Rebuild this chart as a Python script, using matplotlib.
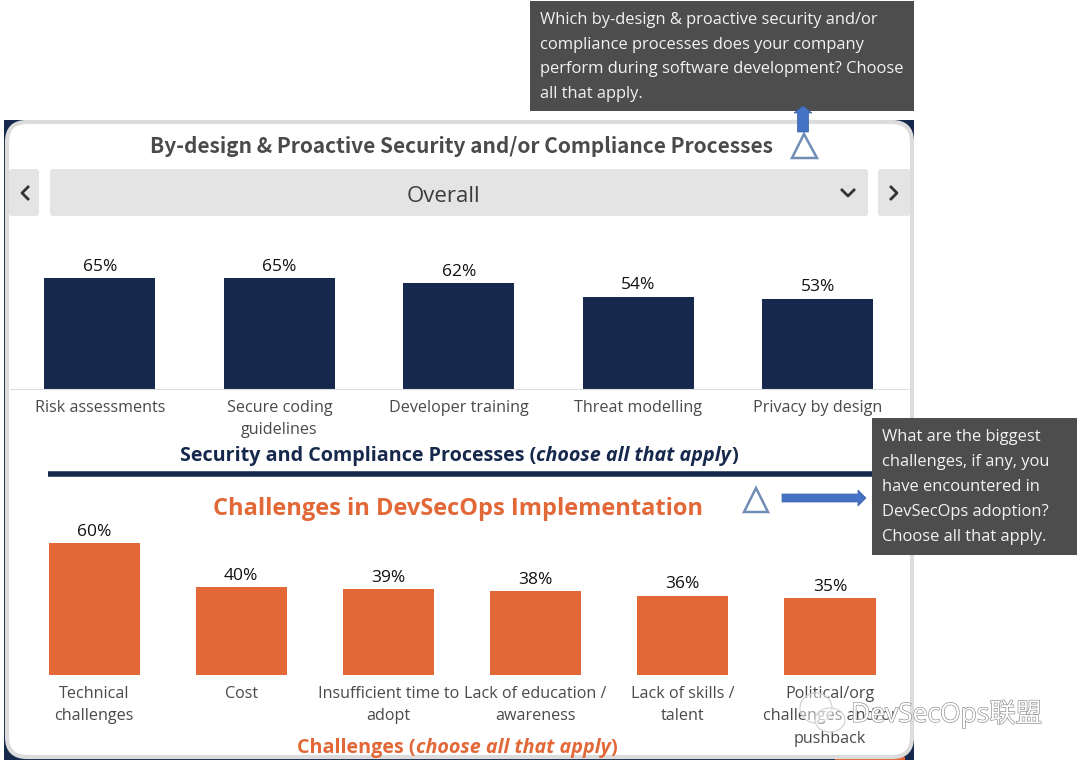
import matplotlib
matplotlib.use("Agg")
import matplotlib.pyplot as plt
import matplotlib.patheffects as pe
from matplotlib.patches import FancyBboxPatch, Rectangle, Polygon, Ellipse

plt.rcParams['font.family'] = ['Open Sans', 'Noto Sans CJK SC', 'DejaVu Sans']

# data
top_labels = ['Risk assessments', 'Secure coding\nguidelines', 'Developer training', 'Threat modelling', 'Privacy by design']
top_values = [65, 65, 62, 54, 53]
bottom_labels = ['Technical\nchallenges', 'Cost', 'Insufficient time to\nadopt', 'Lack of education /\nawareness',
                 'Lack of skills /\ntalent', 'Political/org\nchallenges and/or\npushback']
bottom_values = [60, 40, 39, 38, 36, 35]

question_top = ('Which by-design & proactive security and/or\ncompliance processes does your company\n'
                'perform during software development? Choose\nall that apply.')
question_bottom = ('What are the biggest\nchallenges, if any, you\nhave encountered in\n'
                   'DevSecOps adoption?\nChoose all that apply.')

NAVY = '#16294d'
ORANGE = '#e26838'
TEXT = '#4a4a4a'
W, H = 1080, 765

fig = plt.figure(figsize=(W / 100, H / 100), dpi=100, facecolor='white')


def px_axes(left, top, right, bottom):
    return fig.add_axes([left / W, 1 - bottom / H, (right - left) / W, (bottom - top) / H])


def caption(ax, cx, y, head, tail, color, size):
    # bold part + bold italic part + closing bracket, centred as one line
    rend = fig.canvas.get_renderer()
    parts = [(head + ' (', 'normal'), (tail, 'italic'), (')', 'normal')]
    items = [ax.text(0, y, s, va='center', ha='left', fontsize=size, fontweight='bold', fontstyle=st, color=color)
             for s, st in parts]
    widths = [t.get_window_extent(rend).width for t in items]
    x = cx - sum(widths) / 2
    for t, w in zip(items, widths):
        t.set_x(x)
        x += w


# page layer in pixel coordinates
bg = fig.add_axes([0, 0, 1, 1])
bg.set_xlim(0, W)
bg.set_ylim(H, 0)
bg.axis('off')

# dark card behind, white rounded panel on top
bg.add_patch(Rectangle((4, 120), 910, 640, fc=NAVY, ec='none'))
bg.add_patch(Rectangle((835, 757), 70, 3, fc=ORANGE, ec='none'))
bg.add_patch(FancyBboxPatch((7, 122), 905, 635, boxstyle='round,pad=0,rounding_size=20',
                            fc='white', ec='#dcdcdc', lw=3))

# title and selector
bg.text(461, 146.5, 'By-design & Proactive Security and/or Compliance Processes', ha='center', va='center',
        fontsize=15, fontweight='bold', color=TEXT, family=['Noto Sans CJK SC', 'DejaVu Sans'])
for x0, x1 in [(9, 39), (50, 868), (878, 910)]:
    bg.add_patch(FancyBboxPatch((x0, 169), x1 - x0, 47, boxstyle='round,pad=0,rounding_size=3', fc='#e4e4e4', ec='none'))
bg.text(443, 196, 'Overall', ha='center', va='center', fontsize=16, color='#3c3c3c')
bg.plot([28, 22, 28], [187, 193, 199], color='#333333', lw=2)
bg.plot([891, 897, 891], [187, 193, 199], color='#333333', lw=2)
bg.plot([842, 848, 854], [190, 196, 190], color='#333333', lw=2)

# top bars
ax1 = px_axes(10, 240, 908, 389)
ax1.bar(range(len(top_values)), top_values, width=111 / 179.5, color=NAVY)
ax1.set_xlim((10 - 100) / 179.5, (908 - 100) / 179.5)
ax1.set_ylim(0, 149 / 1.705)
ax1.set_xticks(range(len(top_values)))
ax1.set_xticklabels(top_labels, fontsize=11.65, color=TEXT, linespacing=1.53)
ax1.tick_params(axis='x', length=0, pad=8)
ax1.set_yticks([])
for s in ['top', 'left', 'right']:
    ax1.spines[s].set_visible(False)
ax1.spines['bottom'].set_color('#dddddd')
ax1.patch.set_alpha(0)
for i, v in enumerate(top_values):
    ax1.annotate(f'{v}%', (i, v), xytext=(0, 2.5), textcoords='offset points', ha='center', va='bottom',
                 fontsize=12.5, color='#111111')

# section captions
caption(bg, 459, 456, 'Security and Compliance Processes', 'choose all that apply', NAVY, 14.2)
bg.plot([48, 873], [474, 474], color=NAVY, lw=4, solid_capstyle='butt')
bg.text(458, 509, 'Challenges in DevSecOps Implementation', ha='center', va='center', fontsize=17,
        fontweight='bold', color=ORANGE)

# bottom bars
ax2 = px_axes(10, 520, 908, 675)
ax2.bar(range(len(bottom_values)), bottom_values, width=91 / 147.2, color=ORANGE)
ax2.set_xlim((10 - 94) / 147.2, (908 - 94) / 147.2)
ax2.set_ylim(0, 155 / 2.2)
ax2.set_xticks(range(len(bottom_values)))
ax2.set_xticklabels(bottom_labels, fontsize=11.65, color=TEXT, linespacing=1.53)
ax2.tick_params(axis='x', length=0, pad=8)
ax2.set_yticks([])
for s in ax2.spines.values():
    s.set_visible(False)
ax2.patch.set_alpha(0)
for i, v in enumerate(bottom_values):
    ax2.annotate(f'{v}%', (i, v), xytext=(0, 2.5), textcoords='offset points', ha='center', va='bottom',
                 fontsize=12.5, color='#111111')

caption(bg, 457, 748, 'Challenges', 'choose all that apply', ORANGE, 14.25)

# overlay layer for callouts, above the bars
top = fig.add_axes([0, 0, 1, 1])
top.set_xlim(0, W)
top.set_ylim(H, 0)
top.axis('off')
top.patch.set_alpha(0)

top.add_patch(Rectangle((530, 1), 384, 110, fc='#4d4d4d', ec='none'))
top.text(540, 57, question_top, ha='left', va='center', fontsize=11.85, color='#f2f2f2', linespacing=1.74)
top.add_patch(Rectangle((872, 418), 205, 137, fc='#4d4d4d', ec='none'))
top.text(882, 487, question_bottom, ha='left', va='center', fontsize=11.85, color='#f2f2f2', linespacing=1.74)

# triangles and arrows
top.add_patch(Polygon([[804, 134], [792, 158], [817, 158]], closed=True, fc='white', ec='#6f8db5', lw=1.8))
top.add_patch(Polygon([[756, 488], [744, 512], [768, 512]], closed=True, fc='white', ec='#6f8db5', lw=1.8))
top.add_patch(Polygon([[803, 106], [812, 113], [808.5, 113], [808.5, 132], [797.5, 132], [797.5, 113], [794, 113]],
                      closed=True, fc='#4472c4', ec='#3a62a8', lw=0.5))
top.add_patch(Polygon([[866, 498], [858, 490], [858, 494], [782, 494], [782, 502], [858, 502], [858, 506]],
                      closed=True, fc='#4472c4', ec='#3a62a8', lw=0.5))

# watermark
for cx, cy, w, h in [(816, 708, 32, 30), (830, 720, 30, 24)]:
    top.add_patch(Ellipse((cx, cy), w, h, fc=(1, 1, 1, 0.45), ec='#d0d0d0', lw=0.8))
top.text(851, 714, 'DevSecOps联盟', ha='left', va='center', fontsize=19, color='white',
         path_effects=[pe.withStroke(linewidth=0.9, foreground='#8a8a8a')])

fig.savefig('out.png', dpi=100)
